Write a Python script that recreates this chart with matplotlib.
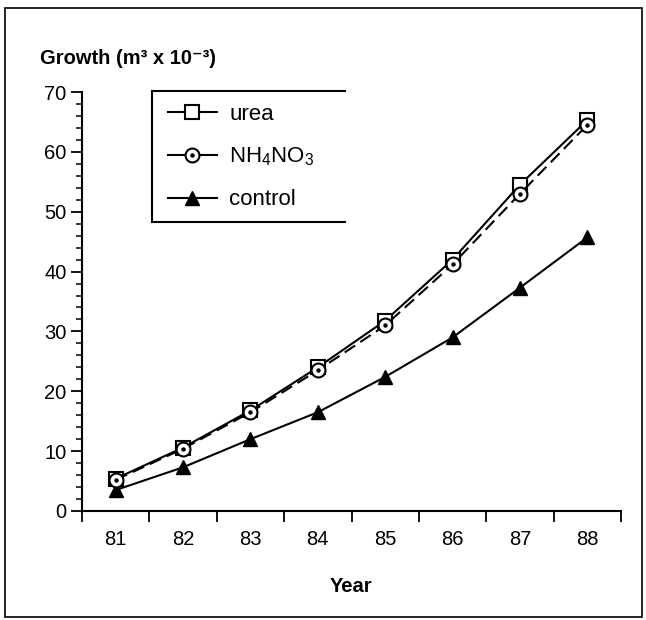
import matplotlib
matplotlib.use("Agg")
import matplotlib.pyplot as plt
from matplotlib.lines import Line2D
from matplotlib.patches import Rectangle
from matplotlib.ticker import MultipleLocator, FixedLocator

plt.rcParams['font.family'] = ['Liberation Sans', 'DejaVu Sans']
plt.rcParams['mathtext.fontset'] = 'custom'
plt.rcParams['mathtext.rm'] = 'Liberation Sans'

# data
years = [81, 82, 83, 84, 85, 86, 87, 88]
urea = [5.4, 10.6, 16.8, 24.0, 31.8, 42.0, 54.5, 65.3]
nh4no3 = [5.2, 10.4, 16.5, 23.5, 31.0, 41.2, 53.0, 64.5]
control = [3.5, 7.3, 12.0, 16.5, 22.4, 29.0, 37.3, 45.7]
series_labels = ['urea', 'NH$_\\mathrm{4}$NO$_\\mathrm{3}$', 'control']

W, H = 646, 620
fig = plt.figure(figsize=(W / 100, H / 100), dpi=100)
ax = fig.add_axes([82 / W, 109 / H, 539 / W, 419 / H])

lw = 1.5
ax.plot(years, urea, color='black', lw=lw, ls='-', marker='s', ms=10,
        mfc='white', mec='black', mew=1.5, zorder=3)
ax.plot(years, nh4no3, color='black', lw=lw, ls=(0, (6, 3)), marker='o', ms=10,
        mfc='white', mec='black', mew=1.5, zorder=4)
ax.plot(years, nh4no3, ls='none', marker='o', ms=2.2, color='black', zorder=5)
ax.plot(years, control, color='black', lw=lw, marker='^', ms=10,
        mfc='black', mec='black', zorder=3)

ax.set_xlim(80.5, 88.5)
ax.set_ylim(0, 70)

for s in ['top', 'right']:
    ax.spines[s].set_visible(False)
for s in ['left', 'bottom']:
    ax.spines[s].set_linewidth(1.5)

ax.yaxis.set_major_locator(MultipleLocator(10))
ax.yaxis.set_minor_locator(MultipleLocator(2))
ax.tick_params(axis='y', which='major', length=8, width=1.3, labelsize=14.5, pad=3)
ax.tick_params(axis='y', which='minor', length=4, width=1.1)

# boundaries get ticks, year labels sit between them
ax.xaxis.set_major_locator(FixedLocator([y - 0.5 for y in years] + [years[-1] + 0.5]))
ax.xaxis.set_major_formatter(plt.NullFormatter())
ax.set_xticks(years, minor=True)
ax.set_xticklabels([str(y) for y in years], minor=True)
ax.tick_params(axis='x', which='major', length=8, width=1.3)
ax.tick_params(axis='x', which='minor', length=0, labelsize=14.5, pad=14)

ax.set_xlabel('Year', fontsize=14.5, fontweight='bold', labelpad=20)

fig.text(40 / W, 1 - 58 / H, 'Growth (m\u00b3 x 10\u207b\u00b3)', fontsize=14.5,
         fontweight='bold', va='center', ha='left')

# legend
h_urea = Line2D([], [], color='black', lw=lw, marker='s', ms=10, mfc='white', mew=1.5)
h_nh = (Line2D([], [], color='black', lw=lw, marker='o', ms=10, mfc='white', mew=1.5),
        Line2D([], [], ls='none', marker='o', ms=2.2, color='black'))
h_ctrl = Line2D([], [], color='black', lw=lw, marker='^', ms=10, mfc='black')
fig.legend([h_urea, h_nh, h_ctrl], series_labels, loc='center left',
           bbox_to_anchor=(168 / W, 1 - 157 / H), bbox_transform=fig.transFigure,
           frameon=False, fontsize=16, handlelength=2.2, handletextpad=0.55,
           labelspacing=0.95, borderpad=0, borderaxespad=0)

# open legend box (no right side)
bx0, bx1, by0, by1 = 152, 345, 91, 222
for xs, ys in [([bx0, bx1], [by0, by0]), ([bx0, bx1], [by1, by1]), ([bx0, bx0], [by0, by1])]:
    fig.add_artist(Line2D([x / W for x in xs], [1 - y / H for y in ys],
                          transform=fig.transFigure, color='black', lw=1.5))

# scanned page frame
fig.add_artist(Rectangle((5 / W, 1 - 617 / H), 637 / W, 609 / H, transform=fig.transFigure,
                         fill=False, edgecolor='black', lw=1.2))

fig.savefig('out.png', dpi=100, facecolor='white')
